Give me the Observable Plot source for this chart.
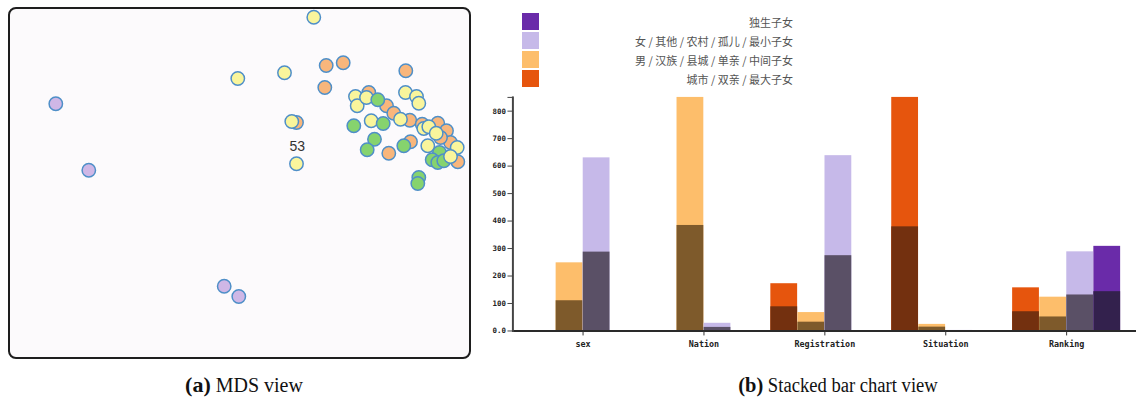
<!DOCTYPE html>
<html>
<head>
<meta charset="utf-8">
<script src="https://cdn.jsdelivr.net/npm/d3@7"></script>
<script src="https://cdn.jsdelivr.net/npm/@observablehq/plot@0.6"></script>
<style>
  html, body { margin: 0; padding: 0; background: #fff; overflow: hidden; }
  #root { position: relative; width: 1136px; height: 401px; }
  #mds { position: absolute; left: 8px; top: 7px; width: 459px; height: 348px;
         border: 2px solid #1e1e1e; border-radius: 8px; background: #fcfafc; overflow: hidden; }
  #bars { position: absolute; left: 480px; top: 88px; }
  .sw { position: absolute; left: 522px; width: 17px; height: 17px; }
  .lt { position: absolute; right: calc(1136px - 793px); font: 11px "Noto Sans CJK SC", sans-serif;
        color: #555; line-height: 14px; white-space: nowrap; }
  .cap { position: absolute; top: 372px; font-family: "Liberation Serif", "Times New Roman", serif;
         font-size: 20px; line-height: 26px; color: #111; white-space: nowrap; transform: translateX(-50%); }
  .cap b { font-size: 22px; }
</style>
</head>
<body>
<div id="root">
  <div id="mds"></div>
  <div id="legend"></div>
  <div id="bars"></div>
  <div class="cap" style="left:244px"><b>(a)</b> MDS view</div>
  <div class="cap" style="left:838px; transform: translateX(-50%) scaleX(0.93)"><b>(b)</b> Stacked bar chart view</div>
</div>
<script>
// ---------- MDS view data (projected coordinates) ----------
const mdsX = [325.7, 342.7, 405.3, 324.3, 296, 368.3, 386, 393.3, 409.3, 388.3, 410, 421.7, 437.3, 446, 450, 440, 457.3,
              313.3, 237.3, 284, 291.3, 296, 355, 356.7, 366, 400, 405, 416, 418.3, 370.7, 423.3, 428.3, 435.7, 456.7, 427.3,
              377.3, 353.3, 382.7, 374, 366.7, 403.3, 439, 431.7, 437.3, 443.3, 418.3, 417.3, 450,
              55.3, 88.3, 223.7, 238.3];
const mdsY = [65, 62.3, 70.3, 87, 122, 92, 105.3, 112.7, 119.7, 152.7, 141.3, 123.7, 122.7, 130.3, 142, 137, 161.3,
              16.7, 78, 72.3, 121, 163.3, 96, 105.3, 97, 118.7, 92, 96, 102.7, 120.3, 128, 126.3, 132.7, 147, 145.3,
              99.3, 125.3, 123, 138.7, 149.3, 145.3, 152, 159.3, 162, 160.3, 177, 183, 156,
              103.3, 169.7, 285.7, 296];
const mdsGroup = ["o","o","o","o","o","o","o","o","o","o","o","o","o","o","o","o","o",
                  "y","y","y","y","y","y","y","y","y","y","y","y","y","y","y","y","y","y",
                  "g","g","g","g","g","g","g","g","g","g","g","g","y",
                  "p","p","p","p"];
const mdsGroupKeys = ["o", "y", "g", "p"];
const mdsGroupColors = ["#f8b67c", "#f9f59c", "#86d36e", "#cfb7e6"];
const mdsLabels = [{x: 296.7, y: 145.7, text: "53"}];

// ---------- Stacked bar chart data ----------
const categories = ["sex", "Nation", "Registration", "Situation", "Ranking"];
const seriesKeys = ["城市 / 双亲 / 最大子女", "男 / 汉族 / 县城 / 单亲 / 中间子女", "女 / 其他 / 农村 / 孤儿 / 最小子女", "独生子女"];
const seriesColors = ["#e6550d", "#fdbe6b", "#c6b9e9", "#6a2ba9"];
const seriesDark   = ["#73300f", "#7e5a2b", "#5a5066", "#33214d"];
const totals = [
  [null, null, 172, 850, 157],
  [248, 850, 67, 24, 123],
  [630, 28, 638, 2, 288],
  [null, null, null, null, 308]
];
const selected = [
  [null, null, 88, 379, 70],
  [110, 384, 32, 14, 51],
  [287, 13, 274, 1, 131],
  [null, null, null, null, 143]
];
const yTicks = [0, 100, 200, 300, 400, 500, 600, 700, 800];
const yMax = 850;

// ---------- MDS plot ----------
const mdsData = mdsX.map((x, i) => ({x, y: mdsY[i], g: mdsGroup[i]}));
const mds = Plot.plot({
  width: 459, height: 348,
  margin: 0,
  x: {domain: [10, 469], range: [0, 459], axis: null},
  y: {domain: [9, 357], range: [0, 348], axis: null},
  color: {domain: mdsGroupKeys, range: mdsGroupColors},
  style: {background: "transparent"},
  marks: [
    Plot.dot(mdsData, {x: "x", y: "y", r: 6.7, fill: "g", stroke: "#4f8fc8", strokeWidth: 1.5}),
    Plot.text(mdsLabels, {x: "x", y: "y", text: "text", fontSize: 14, fill: "#333",
                          fontFamily: "Liberation Sans, Arial, sans-serif"})
  ]
});
document.getElementById("mds").appendChild(mds);

// ---------- Legend ----------
const legend = document.getElementById("legend");
seriesKeys.slice().reverse().forEach((k, idx) => {
  const j = seriesKeys.length - 1 - idx;
  const sw = document.createElement("div");
  sw.className = "sw";
  sw.style.top = (12.7 + 19 * idx) + "px";
  sw.style.background = seriesColors[j];
  legend.appendChild(sw);
  const t = document.createElement("div");
  t.className = "lt";
  t.style.top = (14.5 + 19 * idx) + "px";
  t.textContent = k;
  legend.appendChild(t);
});

// ---------- Bar chart ----------
const W = 662, H = 270, mL = 32.7, mT = 9, mB = 25.3, mR = 0;
const padIn = 0.11, padOut = 0.1174;
const step = (W - mL - mR) / (categories.length - padIn + 2 * padOut);
const slotW = step * (1 - padIn) / seriesKeys.length;

const rows = [];
seriesKeys.forEach((s, j) => categories.forEach((c, i) => {
  if (totals[j][i] != null) rows.push({category: c, series: j, total: totals[j][i], sel: selected[j][i]});
}));

const barMarks = [];
seriesKeys.forEach((s, j) => {
  const d = rows.filter(r => r.series === j);
  const inset = {insetLeft: j * slotW, insetRight: (seriesKeys.length - 1 - j) * slotW};
  barMarks.push(Plot.barY(d, {x: "category", y: "total", fill: seriesColors[j], ...inset}));
  barMarks.push(Plot.barY(d, {x: "category", y: "sel", fill: seriesDark[j], ...inset}));
});

const monoFont = "DejaVu Sans Mono, Liberation Mono, monospace";
const bars = Plot.plot({
  width: W, height: H,
  marginLeft: mL, marginTop: mT, marginBottom: mB, marginRight: mR,
  x: {domain: categories, paddingInner: padIn, paddingOuter: padOut, axis: null},
  y: {domain: [0, yMax], axis: null},
  style: {background: "transparent", overflow: "visible"},
  marks: [
    ...barMarks,
    Plot.ruleY([0], {stroke: "#2a2a2a", strokeWidth: 2}),
    Plot.frame({anchor: "left", stroke: "#444", strokeWidth: 2}),
    Plot.axisY({ticks: [...yTicks, yMax], tickSize: 5, tickPadding: 2,
                tickFormat: d => d === yMax ? "" : (d === 0 ? "0.0" : String(d)),
                fontFamily: monoFont, fontSize: 7.5, fontWeight: "bold", fill: "#222", stroke: "#444", label: null}),
    Plot.axisX({tickSize: 5, tickPadding: 5, fontFamily: monoFont, fontSize: 8.5, fontWeight: "bold",
                fill: "#222", stroke: "#333", label: null})
  ]
});
document.getElementById("bars").appendChild(bars);
</script>
</body>
</html>
